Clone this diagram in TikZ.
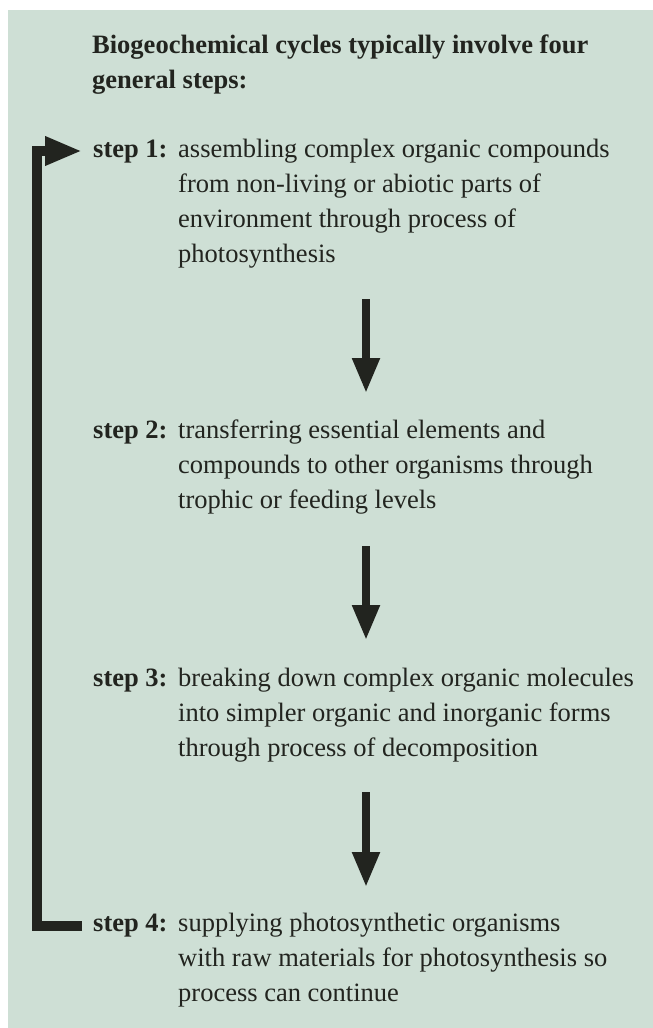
\documentclass[tikz,border=0pt]{standalone}
\usepackage{fontspec}
\setmainfont{Liberation Serif}
\usetikzlibrary{arrows.meta}
\definecolor{bgc}{RGB}{206,223,213}
\definecolor{ink}{RGB}{34,36,31}
\begin{document}
\begin{tikzpicture}[x=1pt,y=1pt,
  txt/.style={anchor=base west, inner sep=0pt, align=left, text=ink,
              font=\fontsize{26.5}{35}\selectfont},
  lbl/.style={anchor=base west, inner sep=0pt, align=left, text=ink,
              font=\fontsize{26.5}{35}\selectfont\bfseries},
  downarrow/.style={draw=ink, line width=8pt, -{Triangle[length=35pt,width=26pt]}},
  looparrow/.style={draw=ink, line width=10pt, line join=miter,
              -{Triangle[length=37pt,width=27pt]}}]
\useasboundingbox (0,0) rectangle (653,-1028);
\fill[bgc] (8,-10) rectangle (653,-1028);

% multi-line nodes: base anchor is the last line's baseline
\node[lbl] (title) at (92,-88) {Biogeochemical cycles typically involve four\\general steps:};

\node[lbl] (s1) at (93,-157) {step 1:};
\node[txt] (t1) at (178,-262) {assembling complex organic compounds\\from non-living or abiotic parts of\\environment through process of\\photosynthesis};

\node[lbl] (s2) at (93,-438) {step 2:};
\node[txt] (t2) at (178,-508) {transferring essential elements and\\compounds to other organisms through\\trophic or feeding levels};

\node[lbl] (s3) at (93,-686) {step 3:};
\node[txt] (t3) at (178,-756) {breaking down complex organic molecules\\into simpler organic and inorganic forms\\through process of decomposition};

\node[lbl] (s4) at (93,-931) {step 4:};
\node[txt] (t4) at (178,-1001) {supplying photosynthetic organisms\\with raw materials for photosynthesis so\\process can continue};

\coordinate (a1s) at (366,-299); \coordinate (a1e) at (366,-393);
\coordinate (a2s) at (366,-546); \coordinate (a2e) at (366,-640);
\coordinate (a3s) at (366,-792); \coordinate (a3e) at (366,-887);
\draw[downarrow] (a1s) -- (a1e);
\draw[downarrow] (a2s) -- (a2e);
\draw[downarrow] (a3s) -- (a3e);

\coordinate (l4) at (82,-926);
\coordinate (lc) at (37,-926);
\coordinate (l1) at (82,-151);
\draw[looparrow] (l4) -- (lc) |- (l1);
\end{tikzpicture}
\end{document}
